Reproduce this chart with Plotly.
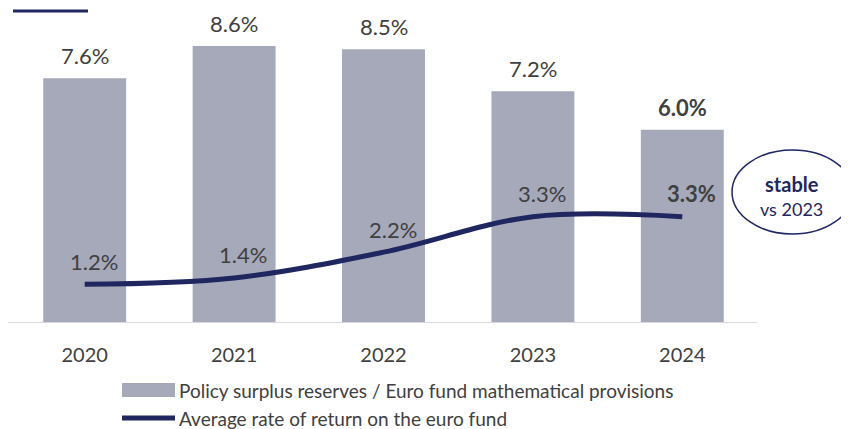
import plotly.graph_objects as go

years = ["2020", "2021", "2022", "2023", "2024"]
reserves = [7.6, 8.6, 8.5, 7.2, 6.0]
returns = [1.2, 1.4, 2.2, 3.3, 3.3]
bar_name = "Policy surplus reserves / Euro fund mathematical provisions"
line_name = "Average rate of return on the euro fund"

NAVY = "#1F2660"
BAR = "#A6A9BA"
TXT = "#404040"
FONT = "Lato"

# page body has an 8px margin: figure is drawn in a slightly smaller box
OFF = 8
W, H = 849 - OFF, 429 - OFF
L, R, T, B = 2, 92, 2, 106
pw, ph = W - L - R, H - T - B


def px(x):
    """reference-screen x pixel -> paper fraction"""
    return (x - OFF - L) / pw


def py(y):
    """reference-screen y pixel -> paper fraction"""
    return 1 - (y - OFF - T) / ph


fig = go.Figure()
fig.add_trace(go.Bar(x=years, y=reserves, marker=dict(color=BAR, line=dict(width=0)),
                     showlegend=False, hoverinfo="skip"))
fig.add_trace(go.Scatter(x=years, y=returns, mode="lines",
                         line=dict(color=NAVY, width=5, shape="spline", smoothing=1.0),
                         showlegend=False, hoverinfo="skip"))

n = len(years)
for i, v in enumerate(reserves):
    last = i == n - 1
    fig.add_annotation(x=i, y=v, text=f"<b>{v:.1f}%</b>" if last else f"{v:.1f}%",
                       showarrow=False, xanchor="center", yanchor="bottom", yshift=8,
                       borderpad=0,
                       font=dict(family=FONT, size=22, color=TXT))
for i, v in enumerate(returns):
    last = i == n - 1
    fig.add_annotation(x=i, y=v, text=f"<b>{v:.1f}%</b>" if last else f"{v:.1f}%",
                       showarrow=False, xanchor="center", yanchor="middle", yshift=23, xshift=9,
                       font=dict(family=FONT, size=22, color=TXT))

# top-left accent line
fig.add_shape(type="line", xref="paper", yref="paper", x0=px(13), x1=px(88),
              y0=py(11), y1=py(11), line=dict(color=NAVY, width=3))
# baseline
fig.add_shape(type="line", xref="paper", yref="y", x0=px(7), x1=px(757), y0=0, y1=0,
              line=dict(color="#D9D9D9", width=2))

# ellipse callout
fig.add_shape(type="circle", xref="paper", yref="paper",
              x0=px(732), x1=px(853), y0=py(234), y1=py(150),
              line=dict(color=NAVY, width=1.5), fillcolor="white")
fig.add_annotation(xref="paper", yref="paper", x=px(792), y=py(184), text="<b>stable</b>",
                   xanchor="center", yanchor="middle",
                   showarrow=False, font=dict(family=FONT, size=20, color=NAVY))
fig.add_annotation(xref="paper", yref="paper", x=px(792), y=py(209), text="vs 2023",
                   xanchor="center", yanchor="middle",
                   showarrow=False, font=dict(family=FONT, size=18, color=NAVY))

# manual legend
fig.add_shape(type="rect", xref="paper", yref="paper", x0=px(122), x1=px(175),
              y0=py(397), y1=py(383), fillcolor=BAR, line=dict(width=0))
fig.add_shape(type="line", xref="paper", yref="paper", x0=px(122), x1=px(175),
              y0=py(418), y1=py(418), line=dict(color=NAVY, width=5))
fig.add_annotation(xref="paper", yref="paper", x=px(177), y=py(390), text=bar_name,
                   xanchor="left", yanchor="middle",
                   showarrow=False, font=dict(family=FONT, size=19, color=TXT))
fig.add_annotation(xref="paper", yref="paper", x=px(177), y=py(418), text=line_name,
                   xanchor="left", yanchor="middle",
                   showarrow=False, font=dict(family=FONT, size=19, color=TXT))

fig.update_layout(
    width=W, height=H, margin=dict(l=L, r=R, t=T, b=B),
    plot_bgcolor="white", paper_bgcolor="white",
    bargap=0.445, showlegend=False,
    font=dict(family=FONT, color=TXT),
)
fig.update_xaxes(range=[-0.5, 4.5], showgrid=False, showline=False, ticks="",
                 tickfont=dict(family=FONT, size=20, color=TXT), ticklabelstandoff=18)
fig.update_yaxes(range=[0, 9.72], visible=False, showgrid=False, zeroline=False)

fig.write_html("out.html")
